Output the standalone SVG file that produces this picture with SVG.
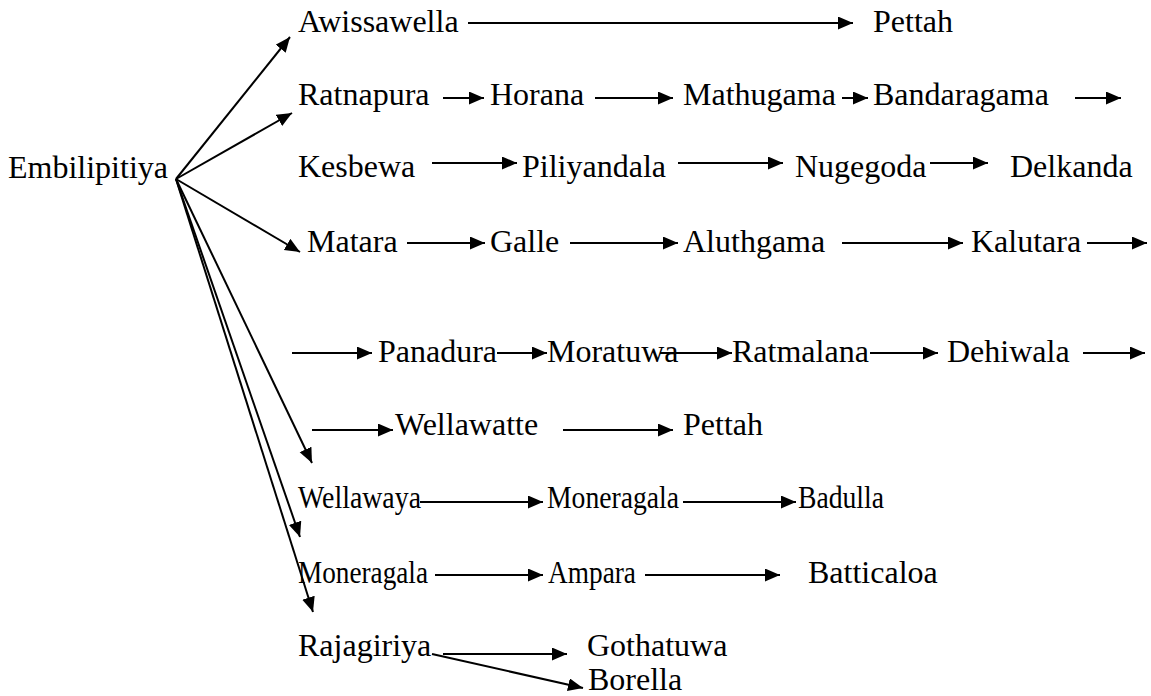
<svg xmlns="http://www.w3.org/2000/svg" width="1151" height="696" viewBox="0 0 1151 696">
  <style>
    text { font-family: "Liberation Serif", "Times New Roman", Times, serif; font-size: 32px; fill: #000; }
    .c line { stroke: #000; stroke-width: 2; marker-end: url(#ah); }
  </style>
  <defs>
    <marker id="ah" markerUnits="userSpaceOnUse" markerWidth="16" markerHeight="14" refX="15" refY="6.5" orient="auto">
      <path d="M0,0 L15,6.5 L0,13 z" fill="#000"/>
    </marker>
  </defs>
  <rect width="1151" height="696" fill="#fff"/>

  <!-- place names -->
  <g id="embilipitiya"><text x="8" y="178">Embilipitiya</text></g>

  <g id="awissawella"><text x="298" y="32">Awissawella</text></g>
  <g id="pettah-1"><text x="873" y="32">Pettah</text></g>

  <g id="ratnapura"><text x="298" y="105">Ratnapura</text></g>
  <g id="horana"><text x="490" y="105">Horana</text></g>
  <g id="mathugama"><text x="683" y="105">Mathugama</text></g>
  <g id="bandaragama"><text x="873" y="105">Bandaragama</text></g>

  <g id="kesbewa"><text x="298" y="177">Kesbewa</text></g>
  <g id="piliyandala"><text x="522" y="177">Piliyandala</text></g>
  <g id="nugegoda"><text x="795" y="177">Nugegoda</text></g>
  <g id="delkanda"><text x="1010" y="177">Delkanda</text></g>

  <g id="matara"><text x="307" y="252">Matara</text></g>
  <g id="galle"><text x="490" y="252">Galle</text></g>
  <g id="aluthgama"><text x="683" y="252">Aluthgama</text></g>
  <g id="kalutara"><text x="971" y="252">Kalutara</text></g>

  <g id="panadura"><text x="378" y="362">Panadura</text></g>
  <g id="moratuwa"><text x="547" y="362">Moratuwa</text></g>
  <g id="ratmalana"><text x="732" y="362">Ratmalana</text></g>
  <g id="dehiwala"><text x="947" y="362">Dehiwala</text></g>

  <g id="wellawatte"><text x="395" y="435">Wellawatte</text></g>
  <g id="pettah-2"><text x="683" y="435">Pettah</text></g>

  <!-- these two rows are set a little narrower -->
  <g id="wellawaya"><text x="298" y="508" textLength="123" lengthAdjust="spacingAndGlyphs">Wellawaya</text></g>
  <g id="moneragala-1"><text x="547" y="508" textLength="132" lengthAdjust="spacingAndGlyphs">Moneragala</text></g>
  <g id="badulla"><text x="798" y="508" textLength="86" lengthAdjust="spacingAndGlyphs">Badulla</text></g>

  <g id="moneragala-2"><text x="298" y="583" textLength="130" lengthAdjust="spacingAndGlyphs">Moneragala</text></g>
  <g id="ampara"><text x="548" y="583" textLength="88" lengthAdjust="spacingAndGlyphs">Ampara</text></g>
  <g id="batticaloa"><text x="808" y="583">Batticaloa</text></g>

  <g id="rajagiriya"><text x="298" y="656">Rajagiriya</text></g>
  <g id="gothatuwa"><text x="587" y="656">Gothatuwa</text></g>
  <g id="borella"><text x="588" y="690">Borella</text></g>

  <!-- connectors -->
  <g class="c" id="connectors">
    <!-- fan out of Embilipitiya -->
    <line x1="176" y1="179" x2="290" y2="37"/>
    <line x1="176" y1="179" x2="292" y2="113"/>
    <line x1="176" y1="179" x2="300" y2="252"/>
    <line x1="176" y1="179" x2="312" y2="463"/>
    <line x1="176" y1="179" x2="300" y2="537"/>
    <line x1="176" y1="179" x2="313" y2="612"/>

    <line x1="468" y1="23" x2="853" y2="23"/>

    <line x1="443" y1="98" x2="484" y2="98"/>
    <line x1="595" y1="98" x2="673" y2="98"/>
    <line x1="842" y1="98" x2="868" y2="98"/>
    <line x1="1075" y1="98" x2="1121" y2="98"/>

    <line x1="432" y1="163" x2="517" y2="163"/>
    <line x1="678" y1="163" x2="783" y2="163"/>
    <line x1="930" y1="163" x2="988" y2="163"/>

    <line x1="407" y1="243" x2="485" y2="243"/>
    <line x1="570" y1="243" x2="678" y2="243"/>
    <line x1="842" y1="243" x2="963" y2="243"/>
    <line x1="1087" y1="243" x2="1147" y2="243"/>

    <line x1="292" y1="353" x2="372" y2="353"/>
    <line x1="497" y1="353" x2="547" y2="353"/>
    <line x1="660" y1="353" x2="732" y2="353"/>
    <line x1="870" y1="353" x2="938" y2="353"/>
    <line x1="1083" y1="353" x2="1145" y2="353"/>

    <line x1="312" y1="430" x2="393" y2="430"/>
    <line x1="563" y1="430" x2="673" y2="430"/>

    <line x1="420" y1="502" x2="543" y2="502"/>
    <line x1="683" y1="502" x2="796" y2="502"/>

    <line x1="435" y1="575" x2="543" y2="575"/>
    <line x1="645" y1="575" x2="780" y2="575"/>

    <line x1="443" y1="654" x2="567" y2="654"/>
    <line x1="432" y1="654" x2="583" y2="688"/>
  </g>
</svg>
